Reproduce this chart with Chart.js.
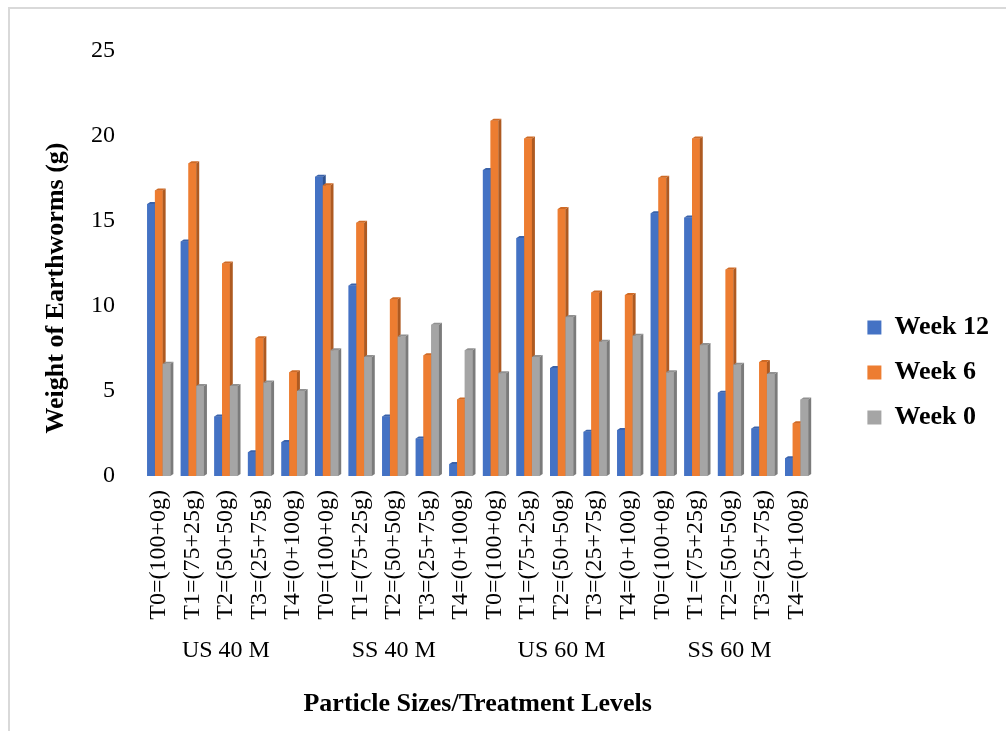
<!DOCTYPE html>
<html>
<head>
<meta charset="utf-8">
<title>Weight of Earthworms</title>
<script src="https://cdn.jsdelivr.net/npm/chart.js@4.4.0/dist/chart.umd.min.js"></script>
<style>
    html, body { margin: 0; padding: 0; background: #fff; }
    #frame { position: absolute; left: 8px; top: 7px; width: 1000px; height: 730px;
             border-left: 2px solid #d9d9d9; border-top: 2px solid #d9d9d9; }
    #wrap { position: absolute; left: 0; top: 0; width: 1006px; height: 731px; }
</style>
</head>
<body>
<div id="frame"></div>
<div id="wrap"><canvas id="chart" width="1006" height="731"></canvas></div>
<script>
const treatments = ['T0=(100+0g)', 'T1=(75+25g)', 'T2=(50+50g)', 'T3=(25+75g)', 'T4=(0+100g)'];
const groups = ['US 40 M', 'SS 40 M', 'US 60 M', 'SS 60 M'];

const week12 = [16.0, 13.8, 3.5, 1.4, 2.0, 17.6, 11.2, 3.5, 2.2, 0.7, 18.0, 14.0, 6.35, 2.6, 2.7, 15.45, 15.2, 4.9, 2.8, 1.05];
const week6 = [16.8, 18.4, 12.5, 8.1, 6.1, 17.1, 14.9, 10.4, 7.1, 4.5, 20.9, 19.85, 15.7, 10.8, 10.65, 17.55, 19.85, 12.15, 6.7, 3.1];
const week0 = [6.6, 5.3, 5.3, 5.5, 5.0, 7.4, 7.0, 8.2, 8.9, 7.4, 6.05, 7.0, 9.35, 7.9, 8.25, 6.1, 7.7, 6.55, 6.0, 4.5];

const yTitle = 'Weight of Earthworms (g)';
const xTitle = 'Particle Sizes/Treatment Levels';

const serif = '"Liberation Serif", "Times New Roman", serif';

// one label per bar group, treatments repeated for every particle size
let labels = [];
groups.forEach(function () {
    treatments.forEach(function (t) { labels.push(t); });
});

// redraw the bars with a little side and top face, like the excel 3d columns
const bars3d = {
    id: 'bars3d',
    afterDatasetsDraw(chart) {
        const ctx = chart.ctx;
        const dx = 3, dy = 2;
        ctx.save();
        for (let i = 0; i < chart.data.labels.length; i++) {
            chart.data.datasets.forEach(function (ds, d) {
                const bar = chart.getDatasetMeta(d).data[i];
                const left = bar.x - bar.width / 2;
                const right = bar.x + bar.width / 2;
                ctx.fillStyle = ds.backgroundColor;
                ctx.fillRect(left, bar.y, bar.width, bar.base - bar.y);
                ctx.fillStyle = ds.sideColor;
                ctx.beginPath();
                ctx.moveTo(right, bar.y);
                ctx.lineTo(right + dx, bar.y - dy);
                ctx.lineTo(right + dx, bar.base - dy);
                ctx.lineTo(right, bar.base);
                ctx.closePath();
                ctx.fill();
                ctx.fillStyle = ds.topColor;
                ctx.beginPath();
                ctx.moveTo(left, bar.y);
                ctx.lineTo(left + dx, bar.y - dy);
                ctx.lineTo(right + dx, bar.y - dy);
                ctx.lineTo(right, bar.y);
                ctx.closePath();
                ctx.fill();
            });
        }
        ctx.restore();
    }
};

// group names under the treatment labels and the y title
const extraText = {
    id: 'extraText',
    afterDraw(chart) {
        const ctx = chart.ctx;
        const x = chart.scales.x;
        ctx.save();
        ctx.fillStyle = '#000';
        ctx.textAlign = 'center';
        ctx.textBaseline = 'middle';
        ctx.font = '24px ' + serif;
        groups.forEach(function (g, k) {
            ctx.fillText(g, x.getPixelForValue(k * treatments.length + 2), 651);
        });
        ctx.translate(56, 288);
        ctx.rotate(-Math.PI / 2);
        ctx.font = 'bold 26px ' + serif;
        ctx.fillText(yTitle, 0, 0);
        ctx.restore();
    }
};

new Chart(document.getElementById('chart'), {
    type: 'bar',
    data: {
        labels: labels,
        datasets: [{
            label: 'Week 12',
            data: week12,
            backgroundColor: '#4472C4',
            sideColor: '#2F528F',
            topColor: '#3A62AA',
            borderWidth: 0
        }, {
            label: 'Week 6',
            data: week6,
            backgroundColor: '#ED7D31',
            sideColor: '#AE5A21',
            topColor: '#CF6A25',
            borderWidth: 0
        }, {
            label: 'Week 0',
            data: week0,
            backgroundColor: '#A5A5A5',
            sideColor: '#7B7B7B',
            topColor: '#909090',
            borderWidth: 0
        }]
    },
    options: {
        responsive: false,
        animation: false,
        categoryPercentage: 0.69,
        barPercentage: 1.0,
        layout: {
            padding: { top: 51, bottom: 37, left: 0, right: 7 }
        },
        plugins: {
            tooltip: { enabled: false },
            legend: {
                position: 'right',
                align: 'center',
                labels: {
                    font: { family: serif, size: 26, weight: 'bold' },
                    color: '#000',
                    boxWidth: 14,
                    boxHeight: 14,
                    padding: 19
                }
            }
        },
        scales: {
            x: {
                grid: { display: false, drawTicks: false },
                border: { display: false },
                ticks: {
                    font: { family: serif, size: 24 },
                    color: '#000',
                    minRotation: 90,
                    maxRotation: 90,
                    autoSkip: false,
                    padding: 14
                },
                title: {
                    display: true,
                    text: xTitle,
                    font: { family: serif, size: 26, weight: 'bold' },
                    color: '#000',
                    padding: { top: 0, bottom: -26 }
                },
                afterFit: function (scale) { scale.height = 218; }
            },
            y: {
                min: 0,
                max: 25,
                grid: { display: false, drawTicks: false },
                border: { display: false },
                ticks: {
                    stepSize: 5,
                    font: { family: serif, size: 24 },
                    color: '#000',
                    padding: 27
                },
                afterFit: function (scale) { scale.width = 142; }
            },
            // empty axis, only keeps the legend away from the bars
            gap: {
                position: 'right',
                grid: { display: false, drawTicks: false },
                border: { display: false },
                ticks: { display: false },
                afterFit: function (scale) { scale.width = 35; }
            }
        }
    },
    plugins: [bars3d, extraText]
});
</script>
</body>
</html>
